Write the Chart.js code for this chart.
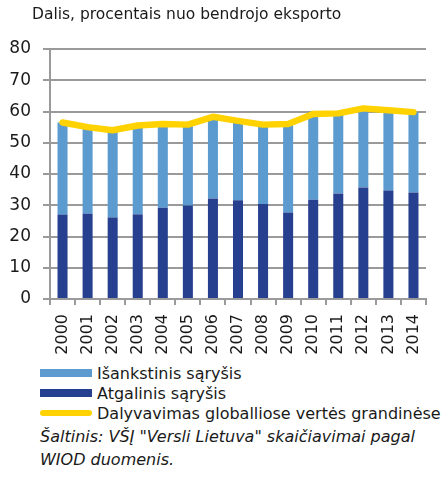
<!DOCTYPE html>
<html>
<head>
    <script src="https://cdn.jsdelivr.net/npm/chart.js"></script>
    <title>Dalyvavimas GVG</title>
    <style>
        body { margin: 0; background: #fff; font-family: "DejaVu Sans", sans-serif; color: #1a1a1a; }
        #wrap { position: relative; width: 443px; height: 477px; }
        #title { position: absolute; left: 32px; top: 5px; font-size: 15.5px; }
        #box { position: absolute; left: 0; top: 0; width: 443px; height: 362px; }
        #legend { position: absolute; left: 40px; top: 363px; font-size: 16px; }
        .row { height: 20px; display: flex; align-items: center; white-space: nowrap; }
        .sw { width: 52px; height: 8px; margin-right: 5px; }
        #source { position: absolute; left: 40px; top: 425px; font-size: 16px; font-style: italic; line-height: 23px; width: 385px; }
    </style>
</head>
<body>
<div id="wrap">
    <div id="box"><canvas id="gvgChart"></canvas></div>
    <div id="title">Dalis, procentais nuo bendrojo eksporto</div>
    <div id="legend"></div>
    <div id="source">Šaltinis: VŠĮ "Versli Lietuva" skaičiavimai pagal WIOD duomenis.</div>
</div>

<script>
    const years = ['2000', '2001', '2002', '2003', '2004', '2005', '2006', '2007', '2008', '2009', '2010', '2011', '2012', '2013', '2014'];
    const atgalinis = [27.0, 27.3, 26.1, 27.1, 29.2, 29.9, 32.2, 31.6, 30.4, 27.7, 31.8, 33.8, 35.7, 34.7, 34.1];
    const isankstinis = [29.5, 27.7, 27.9, 28.4, 26.8, 25.9, 26.1, 25.4, 25.4, 28.3, 27.4, 25.6, 25.3, 25.7, 25.7];
    const dalyvavimas = [56.5, 55.0, 54.0, 55.5, 56.0, 55.8, 58.3, 57.0, 55.8, 56.0, 59.2, 59.4, 61.0, 60.4, 59.8];
    const yTicks = [0, 10, 20, 30, 40, 50, 60, 70, 80];

    const lightBlue = '#5b9bd0';
    const darkBlue = '#263f8e';
    const yellow = '#ffd200';
    const gridGray = '#9a9a9a';

    const ctx = document.getElementById('gvgChart').getContext('2d');
    const chart = new Chart(ctx, {
        type: 'bar',
        data: {
            labels: years,
            datasets: [
                {
                    type: 'line',
                    label: 'Dalyvavimas globalliose vertės grandinėse',
                    data: dalyvavimas,
                    stack: 'line',
                    borderColor: yellow,
                    backgroundColor: yellow,
                    borderWidth: 6.5,
                    borderCapStyle: 'round',
                    borderJoinStyle: 'round',
                    pointRadius: 0,
                    tension: 0,
                    order: 0
                },
                {
                    label: 'Atgalinis sąryšis',
                    data: atgalinis,
                    stack: 'bars',
                    backgroundColor: darkBlue,
                    order: 1
                },
                {
                    label: 'Išankstinis sąryšis',
                    data: isankstinis,
                    stack: 'bars',
                    backgroundColor: lightBlue,
                    order: 1
                }
            ]
        },
        options: {
            responsive: true,
            maintainAspectRatio: false,
            animation: false,
            datasets: {
                bar: { barPercentage: 0.4, categoryPercentage: 1.0 }
            },
            layout: { padding: { left: 0, right: 17, top: 49, bottom: 0 } },
            plugins: {
                legend: { display: false },
                tooltip: { enabled: false }
            },
            scales: {
                x: {
                    stacked: true,
                    afterFit: s => { s.height = 63; },
                    grid: {
                        drawOnChartArea: false,
                        drawTicks: true,
                        tickLength: 6,
                        color: gridGray,
                        lineWidth: 2
                    },
                    border: { color: gridGray, width: 2 },
                    ticks: {
                        minRotation: 90,
                        maxRotation: 90,
                        padding: 9,
                        color: '#1a1a1a',
                        font: { family: 'DejaVu Sans', size: 16 }
                    }
                },
                y: {
                    stacked: true,
                    min: 0,
                    max: 80,
                    afterFit: s => { s.width = 50; },
                    afterBuildTicks: s => { s.ticks = yTicks.map(v => ({ value: v })); },
                    grid: {
                        color: gridGray,
                        lineWidth: 2,
                        tickLength: 7
                    },
                    border: { color: gridGray, width: 2 },
                    ticks: {
                        padding: 12,
                        color: '#1a1a1a',
                        font: { family: 'DejaVu Sans', size: 17 }
                    }
                }
            }
        }
    });

    // legenda: Išankstinis, Atgalinis, Dalyvavimas
    const legendOrder = [2, 1, 0];
    const legend = document.getElementById('legend');
    legendOrder.forEach(i => {
        const ds = chart.data.datasets[i];
        const row = document.createElement('div');
        row.className = 'row';
        const sw = document.createElement('div');
        sw.className = 'sw';
        sw.style.background = ds.backgroundColor;
        if (ds.type === 'line') {
            sw.style.height = '6px';
            sw.style.borderRadius = '3px';
        }
        const txt = document.createElement('span');
        txt.textContent = ds.label;
        row.appendChild(sw);
        row.appendChild(txt);
        legend.appendChild(row);
    });
</script>
</body>
</html>
